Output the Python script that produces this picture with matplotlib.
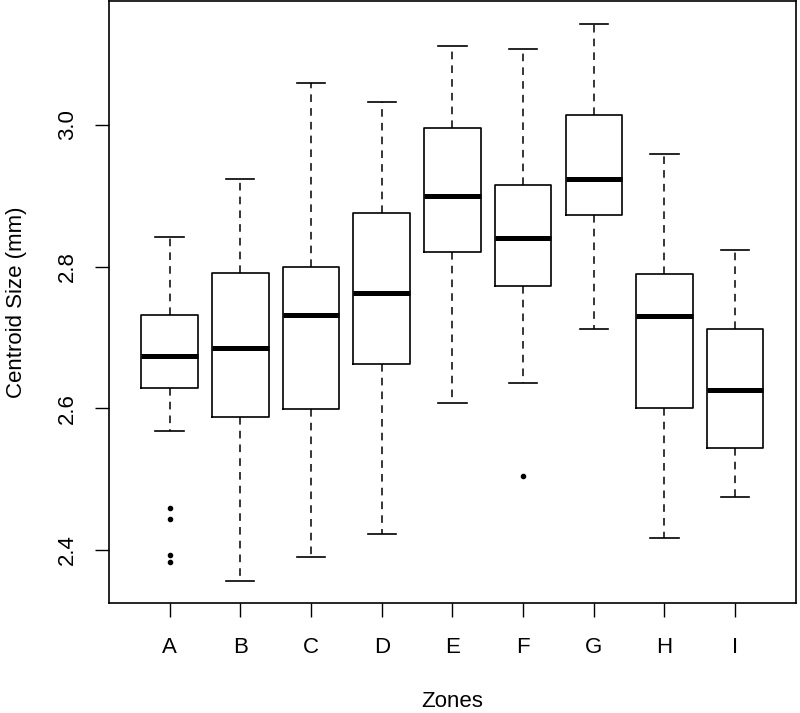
import matplotlib
matplotlib.use("Agg")
import matplotlib.pyplot as plt

plt.rcParams["font.family"] = ["Liberation Sans", "DejaVu Sans"]

ZONES = ["A", "B", "C", "D", "E", "F", "G", "H", "I"]
WHISKER_LOW = [2.568, 2.356, 2.390, 2.422, 2.607, 2.636, 2.712, 2.417, 2.474]
Q1 = [2.629, 2.587, 2.599, 2.663, 2.820, 2.773, 2.873, 2.600, 2.544]
MEDIAN = [2.674, 2.685, 2.731, 2.762, 2.900, 2.841, 2.923, 2.730, 2.625]
Q3 = [2.732, 2.791, 2.799, 2.875, 2.996, 2.915, 3.014, 2.790, 2.712]
WHISKER_HIGH = [2.842, 2.924, 3.059, 3.033, 3.111, 3.108, 3.143, 2.959, 2.824]
OUTLIERS = [[2.459, 2.444, 2.393, 2.383], [], [], [], [], [2.504], [], [], []]
Y_TICKS = [2.4, 2.6, 2.8, 3.0]


def build_stats() -> list[dict]:
    stats = []
    for i, name in enumerate(ZONES):
        stats.append({
            "label": name,
            "whislo": WHISKER_LOW[i],
            "q1": Q1[i],
            "med": MEDIAN[i],
            "q3": Q3[i],
            "whishi": WHISKER_HIGH[i],
            "fliers": OUTLIERS[i],
        })
    return stats


def main() -> None:
    fig = plt.figure(figsize=(8.0, 7.13), dpi=100)
    ax = fig.add_axes([0.136, 0.154, 0.859, 0.845])

    ax.bxp(
        build_stats(),
        positions=range(1, len(ZONES) + 1),
        widths=0.8,
        showfliers=True,
        boxprops=dict(color="black", linewidth=1.2),
        medianprops=dict(color="black", linewidth=3.6, solid_capstyle="butt"),
        whiskerprops=dict(color="black", linewidth=1.1, linestyle=(0, (5, 4))),
        capprops=dict(color="black", linewidth=1.2),
        capwidths=0.4,
        flierprops=dict(marker="o", markersize=3, markerfacecolor="black",
                        markeredgecolor="black", linestyle="none"),
    )

    ax.set_xlim(0.14, 9.86)
    ax.set_ylim(2.3245, 3.1755)
    ax.set_xticks(range(1, len(ZONES) + 1))
    ax.set_xticklabels(ZONES)
    ax.set_yticks(Y_TICKS)
    ax.set_yticklabels([f"{v:.1f}" for v in Y_TICKS], rotation=90, va="center")

    ax.tick_params(axis="both", length=10, width=1, labelsize=16)
    ax.tick_params(axis="x", pad=14)
    ax.tick_params(axis="y", pad=12)
    for spine in ax.spines.values():
        spine.set_linewidth(1.2)

    ax.set_xlabel("Zones", fontsize=16, labelpad=24)
    ax.set_ylabel("Centroid Size (mm)", fontsize=16, labelpad=22)

    fig.savefig("out.png", dpi=100)
    plt.close(fig)


if __name__ == "__main__":
    main()
